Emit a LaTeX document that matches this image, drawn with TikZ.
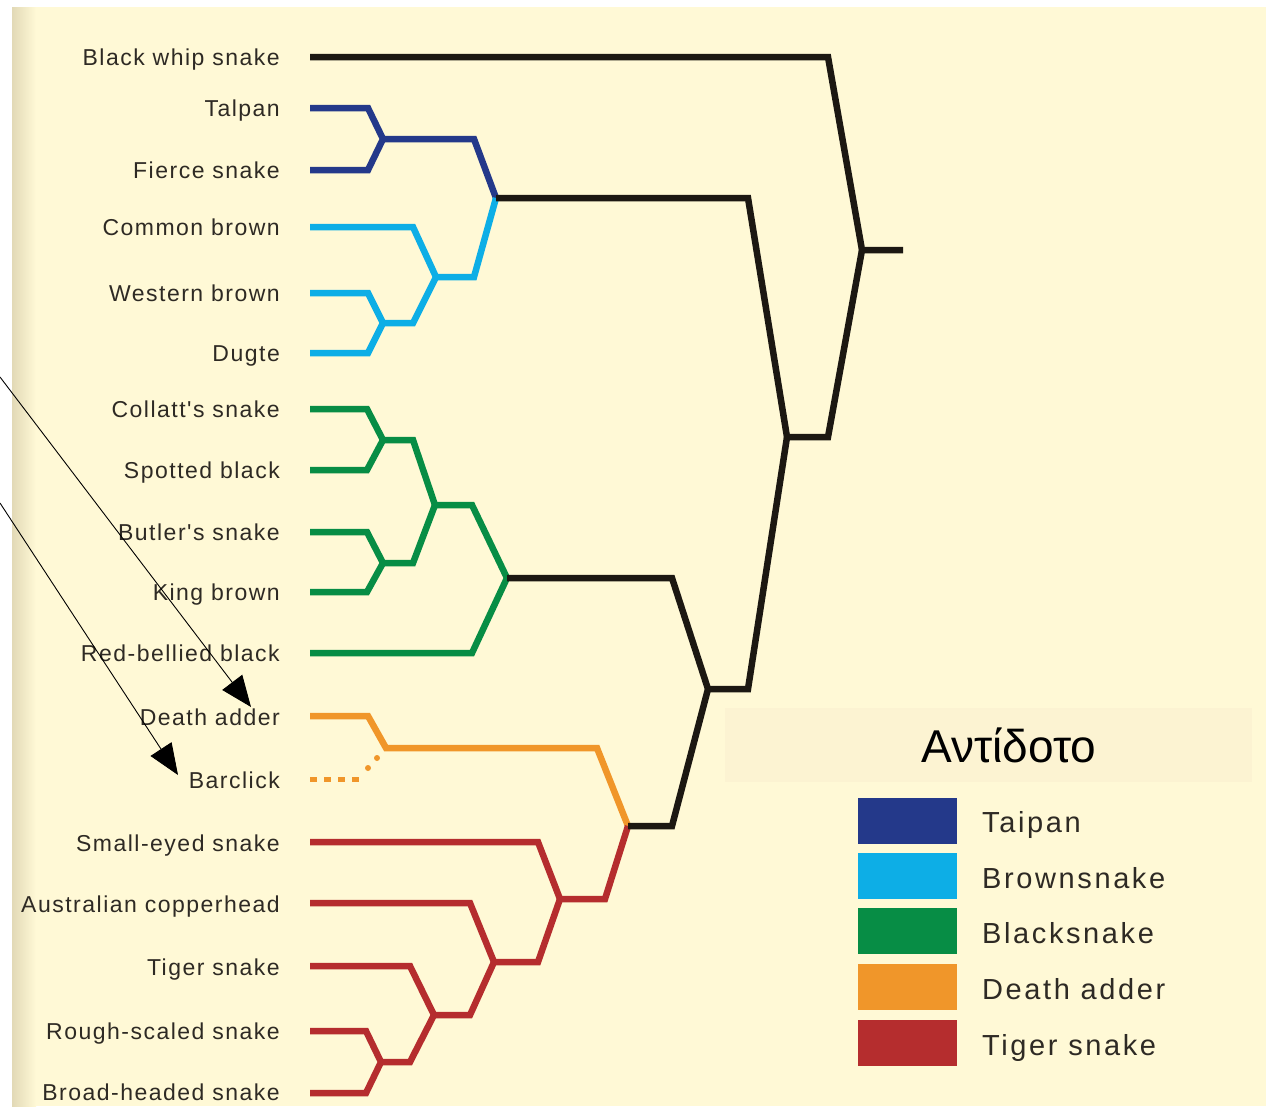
\documentclass[tikz,border=0pt]{standalone}
\usepackage{fontspec}
\setmainfont{Liberation Sans}
\newfontfamily\lblfont[LetterSpace=6.5]{Liberation Sans}
\newfontfamily\legfont[LetterSpace=9]{Liberation Sans}
\usetikzlibrary{arrows.meta}
\definecolor{bg}{HTML}{FFF9D6}
\definecolor{edgec}{HTML}{E2D9B6}
\definecolor{titlebg}{HTML}{FCF3D2}
\definecolor{txt}{HTML}{2E2A24}
\definecolor{blk}{HTML}{1C1812}
\definecolor{tai}{HTML}{24398A}
\definecolor{brn}{HTML}{0DAEE6}
\definecolor{grn}{HTML}{078D45}
\definecolor{org}{HTML}{F0962A}
\definecolor{red}{HTML}{B52D2E}
\begin{document}
\begin{tikzpicture}[x=1pt,y=-1pt,
  br/.style={line width=6.5pt,line join=miter,line cap=butt},
  lbl/.style={anchor=base east,inner sep=0pt,text=txt,font=\lblfont\fontsize{23}{26}\selectfont},
  leg/.style={anchor=base west,inner sep=0pt,text=txt,font=\legfont\fontsize{29}{33}\selectfont},
  swatch/.style={draw=none,minimum width=99pt,minimum height=46pt,inner sep=0pt},
  pointer/.style={line width=0.9pt,black,-{Triangle[length=31pt,width=25pt]}}]
\useasboundingbox (0,0) rectangle (1266,1109);
\fill[white] (0,0) rectangle (1266,1109);
\fill[bg] (12,7) rectangle (1266,1106);
\shade[left color=edgec,right color=bg] (12,7) rectangle (36,1106);
\fill[titlebg] (725,708) rectangle (1252,782);

% leaf labels
\node[lbl] (nbw)  at (280,65)   {Black whip snake};
\node[lbl] (ntai) at (280,116)  {Talpan};
\node[lbl] (nfie) at (280,178)  {Fierce snake};
\node[lbl] (ncb)  at (280,235)  {Common brown};
\node[lbl] (nwb)  at (280,301)  {Western brown};
\node[lbl] (ndu)  at (280,361)  {Dugte};
\node[lbl] (nco)  at (280,417)  {Collatt's snake};
\node[lbl] (nsp)  at (280,478)  {Spotted black};
\node[lbl] (nbu)  at (280,540)  {Butler's snake};
\node[lbl] (nkb)  at (280,600)  {King brown};
\node[lbl] (nrb)  at (280,661)  {Red-bellied black};
\node[lbl] (nda)  at (280,725)  {Death adder};
\node[lbl] (nba)  at (280,788)  {Barclick};
\node[lbl] (nse)  at (280,851)  {Small-eyed snake};
\node[lbl] (nac)  at (280,912)  {Australian copperhead};
\node[lbl] (nti)  at (280,975)  {Tiger snake};
\node[lbl] (nrs)  at (280,1039) {Rough-scaled snake};
\node[lbl] (nbh)  at (280,1100) {Broad-headed snake};

% internal junctions
\coordinate (jTF) at (383,139);
\coordinate (jWD) at (383,323);
\coordinate (jBR) at (436,277);
\coordinate (jTB) at (496,198);
\coordinate (jCS) at (383,440);
\coordinate (jBK) at (383,563);
\coordinate (jG1) at (435,505);
\coordinate (jG)  at (507,578);
\coordinate (jDA) at (386,748);
\coordinate (jRB) at (381,1062);
\coordinate (jR1) at (434,1015);
\coordinate (jR2) at (494,962);
\coordinate (jR3) at (560,899);
\coordinate (jR)  at (628,826);
\coordinate (jDT) at (708,689);
\coordinate (jX)  at (787,437);
\coordinate (jRoot) at (862,250);
\coordinate (root) at (903,250);

% Taipan
\draw[br,tai] (310,108) -- (368,108) -- (jTF) -- (368,170) -- (310,170);
\draw[br,tai] (jTF) -- (474,139) -- (jTB);
% Brownsnake
\draw[br,brn] (310,293) -- (368,293) -- (jWD) -- (368,353) -- (310,353);
\draw[br,brn] (jWD) -- (413,323) -- (jBR);
\draw[br,brn] (310,227) -- (413,227) -- (jBR) -- (474,277) -- (jTB);
% Blacksnake
\draw[br,grn] (310,409) -- (367,409) -- (jCS) -- (367,470) -- (310,470);
\draw[br,grn] (jCS) -- (413,440) -- (jG1);
\draw[br,grn] (310,532) -- (367,532) -- (jBK) -- (367,592) -- (310,592);
\draw[br,grn] (jBK) -- (413,563) -- (jG1);
\draw[br,grn] (jG1) -- (472,505) -- (jG);
\draw[br,grn] (310,653) -- (472,653) -- (jG);
\draw[br,grn] (jG) -- (672,578);
% Death adder
\draw[br,org] (310,716) -- (368,716) -- (jDA) -- (597,748) -- (jR);
\draw[org,line width=5pt,dash pattern=on 7pt off 7pt] (310,779) -- (364,779);
\fill[org] (368,768) circle (3pt) (377,758) circle (3pt);
% Tiger snake
\draw[br,red] (310,842) -- (538,842) -- (jR3);
\draw[br,red] (310,903) -- (470,903) -- (jR2);
\draw[br,red] (310,966) -- (410,966) -- (jR1);
\draw[br,red] (310,1031) -- (366,1031) -- (jRB) -- (366,1093) -- (310,1093);
\draw[br,red] (jRB) -- (410,1062) -- (jR1);
\draw[br,red] (jR1) -- (470,1015) -- (jR2);
\draw[br,red] (jR2) -- (538,962) -- (jR3);
\draw[br,red] (jR3) -- (605,899) -- (jR);
% black backbone
\draw[br,blk] (jTB) -- (748,198) -- (jX);
\draw[br,blk] (310,57) -- (828,57) -- (jRoot) -- (root);
\draw[br,blk] (jRoot) -- (828,437) -- (jX);
\draw[br,blk] (jX) -- (748,689) -- (jDT);
\draw[br,blk] (jDT) -- (672,578) -- (jG);
\draw[br,blk] (jDT) -- (672,826) -- (jR);

% pointers
\coordinate (p1s) at (0,377);
\coordinate (p1e) at (251,707);
\coordinate (p2s) at (0,503);
\coordinate (p2e) at (178,775);
\draw[pointer] (p1s) -- (p1e);
\draw[pointer] (p2s) -- (p2e);

% legend
\node[inner sep=0pt,text=black,font=\fontsize{46}{50}\selectfont] (title) at (1009,745) {Αντίδοτο};
\node[swatch,fill=tai] (s1) at (907.5,821) {};
\node[swatch,fill=brn] (s2) at (907.5,875.5) {};
\node[swatch,fill=grn] (s3) at (907.5,930.5) {};
\node[swatch,fill=org] (s4) at (907.5,987) {};
\node[swatch,fill=red] (s5) at (907.5,1043) {};
\node[leg] (t1) at (982,832)  {Taipan};
\node[leg] (t2) at (982,888)  {Brownsnake};
\node[leg] (t3) at (982,943)  {Blacksnake};
\node[leg] (t4) at (982,999)  {Death adder};
\node[leg] (t5) at (982,1055) {Tiger snake};
\end{tikzpicture}
\end{document}
